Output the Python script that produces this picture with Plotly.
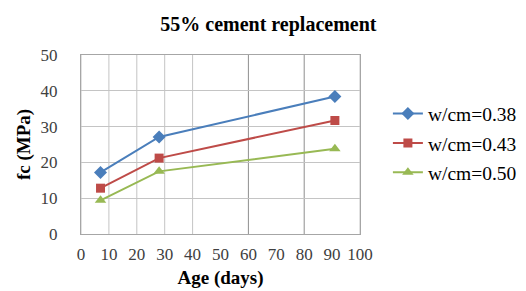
import plotly.graph_objects as go

age_days = [7, 28, 91]
fc_038 = [17.2, 27.1, 38.4]
fc_043 = [12.8, 21.2, 31.7]
fc_050 = [9.4, 17.5, 23.8]
series_names = ["w/cm=0.38", "w/cm=0.43", "w/cm=0.50"]
x_ticks = [0, 10, 20, 30, 40, 50, 60, 70, 80, 90, 100]
x_grid = [0, 10, 20, 30, 40, 60, 80, 100]
y_ticks = [0, 10, 20, 30, 40, 50]

colors = ["#4a7ebb", "#be4b48", "#98b954"]
symbols = ["diamond", "square", "triangle-up"]
sizes = [10, 9, 10]

serif = "Liberation Serif"

fig = go.Figure()
for name, ys, c, s, sz in zip(series_names, [fc_038, fc_043, fc_050], colors, symbols, sizes):
    fig.add_trace(go.Scatter(
        x=age_days, y=ys, name=name, mode="lines+markers",
        line=dict(color=c, width=2),
        marker=dict(symbol=s, size=sz, color=c),
        legendgroup=name,
    ))

for gx in x_grid:
    col = "#8f8f8f" if gx in (60, 80) else "#c4c4c4"
    fig.add_shape(type="line", xref="x", yref="paper", x0=gx, x1=gx, y0=0, y1=1,
                  line=dict(color=col, width=1), layer="below")

fig.update_layout(
    width=526, height=291,
    margin=dict(l=73, r=159, t=47, b=65),
    paper_bgcolor="white", plot_bgcolor="white",
    title=dict(text="<b>55% cement replacement</b>", x=0.495, xanchor="center",
               y=0.945, yanchor="middle",
               font=dict(family=serif, size=20, color="#000000")),
    font=dict(family=serif, color="#000000"),
    showlegend=True,
    legend=dict(x=1.1, xanchor="left", y=0.78, yanchor="top",
                font=dict(family=serif, size=19.5, color="#000000"),
                tracegroupgap=1, itemwidth=30, bgcolor="rgba(0,0,0,0)"),
)

fig.update_xaxes(
    range=[0, 100], tickvals=x_ticks, showgrid=False, zeroline=False,
    showline=True, linecolor="#a6a6a6", linewidth=1, mirror=True,
    ticks="", ticklabelstandoff=5,
    tickfont=dict(family=serif, size=17, color="#404040"),
    title=dict(text="<b>Age (days)</b>", font=dict(family=serif, size=19, color="#000000"), standoff=7),
)
fig.update_yaxes(
    range=[0, 50], tickvals=y_ticks, showgrid=True, gridcolor="#c4c4c4", gridwidth=1,
    zeroline=False, showline=True, linecolor="#a6a6a6", linewidth=1, mirror=True,
    ticks="", ticklabelstandoff=19,
    tickfont=dict(family=serif, size=17, color="#404040"),
    title=dict(text="<b>fc (MPa)</b>", font=dict(family=serif, size=19, color="#000000"), standoff=4),
)

fig.write_html("out.html")
